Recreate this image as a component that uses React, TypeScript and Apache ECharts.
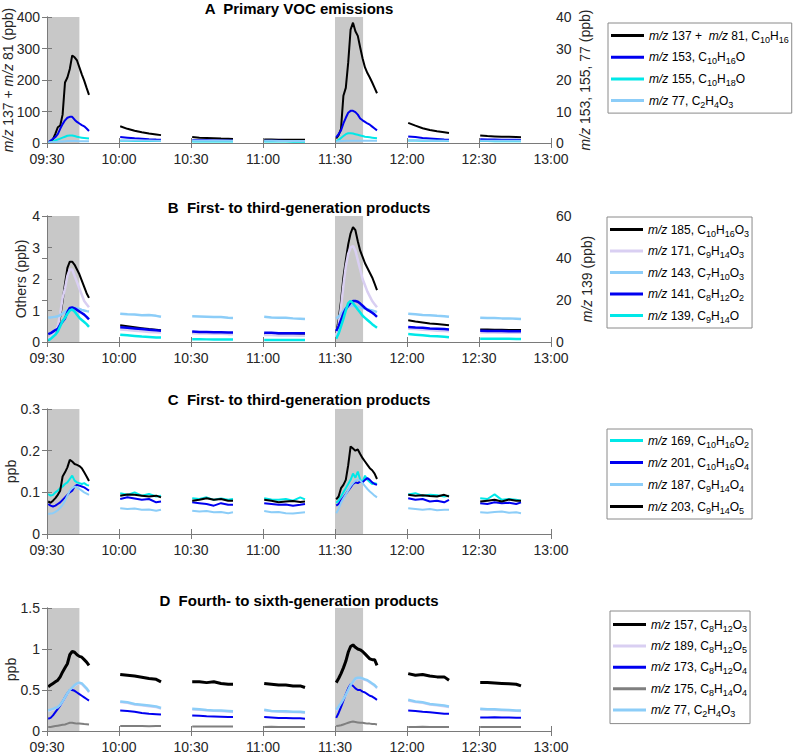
import React, { useEffect, useRef } from 'react';
import * as echarts from 'echarts';

const FONT = 'Liberation Sans, Arial, sans-serif';

// ---------- time axis ----------
const xTickLabels = ['09:30', '10:00', '10:30', '11:00', '11:30', '12:00', '12:30', '13:00'];
// minutes after 09:30
const segmentStarts = [0, 30, 60, 90, 120, 150, 180];
const pulseOffsets = [0.5, 1.5, 2.5, 3.5, 4.5, 5.5, 6.5, 7.5, 8.5, 9.5, 10.5, 11.5, 12.5, 13.5, 14.5, 15.5, 16.5, 17.5];
const flatOffsets = [0.5, 3.5, 6.5, 9.5, 12.5, 15.5, 17.5];
const shadePeriods = [[0, 13.5], [120, 131.7]];

// ---------- Panel A : primary VOC emissions ----------
const a137 = [
  [0, 4, 12, 30, 50, 55, 90, 192, 208, 235, 278, 272, 262, 240, 218, 198, 175, 153],
  [53, 45, 39, 34, 30, 27, 25],
  [19, 17, 16, 15, 14, 13.5, 13],
  [11, 10.8, 10.6, 10.5, 10.4, 10.3, 10.2],
  [15, 25, 45, 150, 175, 255, 360, 382, 355, 340, 303, 268, 240, 222, 208, 192, 175, 158],
  [64, 55, 47, 41, 37, 34, 32],
  [24, 22, 21, 20, 19.5, 19, 18],
];
const a153 = [
  [0.2, 0.8, 1.3, 1.9, 2.8, 4.5, 6.0, 7.2, 8.0, 8.3, 8.3, 7.4, 6.7, 6.2, 5.7, 5.3, 4.6, 3.8],
  [1.9, 1.7, 1.5, 1.35, 1.2, 1.1, 1.05],
  [0.9, 0.87, 0.85, 0.82, 0.8, 0.78, 0.77],
  [0.7, 0.69, 0.68, 0.67, 0.66, 0.65, 0.65],
  [1.8, 2.8, 4.0, 6.2, 8.0, 9.6, 10.2, 10.2, 9.8, 9.0, 7.8, 7.2, 6.7, 6.2, 5.8, 5.2, 4.6, 4.0],
  [2.1, 1.9, 1.6, 1.45, 1.3, 1.15, 1.06],
  [1.2, 1.15, 1.1, 1.05, 1.0, 1.0, 0.98],
];
const a155 = [
  [0, 0.2, 0.5, 0.8, 1.1, 1.4, 1.7, 2.0, 2.3, 2.4, 2.4, 2.2, 2.0, 1.8, 1.7, 1.6, 1.5, 1.4],
  [0.7, 0.68, 0.66, 0.64, 0.62, 0.6, 0.6],
  [0.5, 0.5, 0.49, 0.48, 0.48, 0.47, 0.47],
  [0.45, 0.45, 0.44, 0.44, 0.43, 0.43, 0.43],
  [0.5, 1.0, 1.6, 2.2, 2.8, 3.1, 3.1, 3.0, 2.8, 2.6, 2.4, 2.2, 2.0, 1.9, 1.8, 1.7, 1.6, 1.5],
  [0.8, 0.77, 0.74, 0.72, 0.7, 0.68, 0.67],
  [0.6, 0.6, 0.58, 0.58, 0.57, 0.56, 0.56],
];
const a77 = [
  [0.2, 0.25, 0.3, 0.35, 0.4, 0.45, 0.5, 0.55, 0.6, 0.6, 0.62, 0.6, 0.6, 0.58, 0.56, 0.55, 0.54, 0.52],
  [0.8, 0.79, 0.78, 0.77, 0.76, 0.75, 0.75],
  [0.72, 0.71, 0.71, 0.7, 0.7, 0.69, 0.69],
  [0.68, 0.68, 0.67, 0.67, 0.66, 0.66, 0.66],
  [0.5, 0.55, 0.6, 0.65, 0.7, 0.72, 0.74, 0.75, 0.75, 0.74, 0.73, 0.72, 0.71, 0.7, 0.7, 0.69, 0.68, 0.68],
  [0.78, 0.77, 0.76, 0.75, 0.75, 0.74, 0.74],
  [0.72, 0.72, 0.71, 0.71, 0.7, 0.7, 0.7],
];

// ---------- Panel B ----------
const b185 = [
  [0.05, 0.12, 0.2, 0.3, 0.42, 0.8, 1.3, 1.85, 2.35, 2.55, 2.55, 2.45, 2.3, 2.15, 1.95, 1.75, 1.55, 1.4],
  [0.53, 0.5, 0.47, 0.44, 0.41, 0.39, 0.37],
  [0.3, 0.3, 0.29, 0.29, 0.28, 0.28, 0.28],
  [0.26, 0.25, 0.25, 0.24, 0.24, 0.24, 0.24],
  [0.28, 0.7, 1.3, 2.05, 2.6, 3.1, 3.45, 3.65, 3.55, 3.2, 2.9, 2.7, 2.5, 2.35, 2.2, 2.05, 1.85, 1.65],
  [0.69, 0.65, 0.62, 0.59, 0.57, 0.55, 0.53],
  [0.4, 0.4, 0.39, 0.39, 0.38, 0.38, 0.38],
];
const b171 = [
  [0.1, 0.15, 0.25, 0.35, 0.5, 0.9, 1.4, 1.7, 2.1, 2.3, 2.3, 2.1, 1.9, 1.7, 1.5, 1.3, 1.2, 1.1],
  [0.4, 0.38, 0.36, 0.34, 0.32, 0.31, 0.3],
  [0.28, 0.27, 0.27, 0.26, 0.26, 0.25, 0.25],
  [0.22, 0.22, 0.21, 0.21, 0.21, 0.2, 0.2],
  [0.2, 0.55, 1.1, 1.8, 2.4, 2.8, 3.0, 3.05, 2.9, 2.6, 2.3, 2.0, 1.8, 1.6, 1.45, 1.3, 1.2, 1.1],
  [0.42, 0.41, 0.39, 0.38, 0.36, 0.35, 0.34],
  [0.3, 0.3, 0.3, 0.29, 0.29, 0.29, 0.29],
];
const b143 = [
  [0.78, 0.78, 0.79, 0.8, 0.82, 0.85, 0.9, 0.95, 1.0, 1.05, 1.07, 1.08, 1.07, 1.05, 1.02, 1.0, 0.98, 0.97],
  [0.9, 0.88, 0.87, 0.85, 0.86, 0.83, 0.8],
  [0.82, 0.81, 0.8, 0.79, 0.79, 0.77, 0.76],
  [0.8, 0.78, 0.77, 0.77, 0.75, 0.74, 0.73],
  [0.75, 0.8, 0.9, 1.0, 1.08, 1.12, 1.15, 1.15, 1.13, 1.12, 1.1, 1.08, 1.06, 1.04, 1.02, 1.0, 0.98, 0.95],
  [0.9, 0.88, 0.86, 0.85, 0.83, 0.82, 0.8],
  [0.77, 0.76, 0.76, 0.75, 0.75, 0.74, 0.73],
];
const b141 = [
  [0.25, 0.28, 0.33, 0.38, 0.42, 0.55, 0.65, 0.75, 0.95, 1.08, 1.1, 1.07, 1.02, 0.97, 0.92, 0.87, 0.8, 0.72],
  [0.47, 0.45, 0.43, 0.41, 0.39, 0.37, 0.36],
  [0.33, 0.32, 0.32, 0.31, 0.31, 0.3, 0.3],
  [0.29, 0.29, 0.28, 0.28, 0.28, 0.28, 0.28],
  [0.35, 0.5, 0.7, 0.9, 1.05, 1.15, 1.25, 1.3, 1.3, 1.28, 1.22, 1.15, 1.08, 1.02, 0.98, 0.93, 0.87, 0.8],
  [0.48, 0.46, 0.45, 0.43, 0.42, 0.41, 0.4],
  [0.36, 0.35, 0.35, 0.35, 0.34, 0.34, 0.34],
];
const b139 = [
  [0.8, 1.5, 2.5, 3.5, 5, 7.5, 10, 11.5, 13.5, 15, 15.5, 14.5, 13, 11.5, 10.5, 9.5, 8.5, 7.2],
  [3.5, 3.2, 2.9, 2.6, 2.4, 2.2, 2.1],
  [1.3, 1.3, 1.25, 1.2, 1.2, 1.15, 1.15],
  [1.0, 1.0, 0.98, 0.95, 0.95, 0.93, 0.92],
  [1.5, 4, 7.5, 11, 15, 18.5, 19.5, 18.5, 17, 15.5, 14, 12.5, 11.5, 10.5, 9.5, 8.5, 7.6, 6.8],
  [3.8, 3.5, 3.2, 2.9, 2.7, 2.5, 2.3],
  [1.6, 1.6, 1.55, 1.5, 1.5, 1.45, 1.45],
];

// ---------- Panel C ----------
const c169 = [
  [0.096, 0.092, 0.094, 0.1, 0.104, 0.11, 0.114, 0.12, 0.124, 0.132, 0.14, 0.128, 0.124, 0.122, 0.12, 0.122, 0.118, 0.116],
  [0.098, 0.094, 0.1, 0.092, 0.096, 0.09, 0.092],
  [0.086, 0.084, 0.088, 0.082, 0.085, 0.082, 0.084],
  [0.086, 0.083, 0.082, 0.084, 0.08, 0.088, 0.083],
  [0.075, 0.08, 0.09, 0.1, 0.11, 0.12, 0.13, 0.145, 0.135, 0.15, 0.13, 0.125, 0.14, 0.13, 0.125, 0.12, 0.122, 0.12],
  [0.095, 0.098, 0.092, 0.094, 0.093, 0.09, 0.092],
  [0.086, 0.084, 0.095, 0.082, 0.084, 0.082, 0.08],
];
const c201 = [
  [0.072, 0.068, 0.066, 0.068, 0.072, 0.076, 0.082, 0.088, 0.094, 0.1, 0.104, 0.114, 0.118, 0.116, 0.114, 0.112, 0.108, 0.104],
  [0.084, 0.088, 0.085, 0.082, 0.084, 0.076, 0.078],
  [0.076, 0.074, 0.072, 0.068, 0.074, 0.07, 0.07],
  [0.074, 0.072, 0.07, 0.071, 0.068, 0.07, 0.072],
  [0.068, 0.072, 0.08, 0.088, 0.096, 0.104, 0.112, 0.12, 0.124, 0.122, 0.126, 0.124, 0.13, 0.134, 0.13, 0.124, 0.12, 0.118],
  [0.086, 0.082, 0.084, 0.078, 0.08, 0.076, 0.082],
  [0.074, 0.072, 0.076, 0.074, 0.075, 0.072, 0.076],
];
const c187 = [
  [0.048, 0.049, 0.05, 0.053, 0.057, 0.063, 0.07, 0.08, 0.092, 0.104, 0.11, 0.114, 0.112, 0.108, 0.104, 0.1, 0.097, 0.094],
  [0.062, 0.06, 0.061, 0.058, 0.059, 0.056, 0.058],
  [0.056, 0.054, 0.055, 0.052, 0.053, 0.05, 0.052],
  [0.055, 0.052, 0.053, 0.05, 0.049, 0.051, 0.052],
  [0.05, 0.06, 0.075, 0.085, 0.095, 0.105, 0.115, 0.122, 0.128, 0.13, 0.128, 0.122, 0.115, 0.108, 0.102, 0.097, 0.092, 0.088],
  [0.062, 0.06, 0.058, 0.06, 0.057, 0.058, 0.058],
  [0.052, 0.051, 0.053, 0.054, 0.051, 0.052, 0.05],
];
const c203 = [
  [0.078, 0.075, 0.08, 0.086, 0.094, 0.104, 0.138, 0.148, 0.16, 0.178, 0.174, 0.168, 0.166, 0.163, 0.158, 0.148, 0.138, 0.127],
  [0.092, 0.095, 0.094, 0.092, 0.09, 0.092, 0.088],
  [0.08, 0.082, 0.086, 0.082, 0.084, 0.08, 0.08],
  [0.082, 0.08, 0.076, 0.078, 0.079, 0.077, 0.078],
  [0.083, 0.09, 0.11, 0.118, 0.13, 0.165, 0.21, 0.205, 0.2, 0.203, 0.192, 0.182, 0.174, 0.166, 0.158, 0.153, 0.145, 0.132],
  [0.094, 0.092, 0.093, 0.091, 0.09, 0.094, 0.09],
  [0.078, 0.08, 0.082, 0.078, 0.083, 0.08, 0.08],
];

// ---------- Panel D ----------
const d157 = [
  [0.54, 0.56, 0.58, 0.6, 0.62, 0.66, 0.72, 0.77, 0.82, 0.93, 0.97, 0.96, 0.93, 0.91, 0.9, 0.87, 0.84, 0.8],
  [0.69, 0.68, 0.67, 0.655, 0.64, 0.63, 0.6],
  [0.6, 0.6, 0.59, 0.6, 0.58, 0.57, 0.57],
  [0.58, 0.57, 0.56, 0.56, 0.55, 0.55, 0.53],
  [0.59, 0.64, 0.7, 0.77, 0.85, 0.96, 1.03, 1.05, 1.02, 1.0, 0.99, 0.97, 0.94, 0.91, 0.88, 0.87, 0.87, 0.8],
  [0.7, 0.68, 0.69, 0.67, 0.66, 0.66, 0.62],
  [0.59, 0.59, 0.585, 0.58, 0.575, 0.57, 0.55],
];
const d189 = [
  [0.24, 0.25, 0.26, 0.27, 0.28, 0.31, 0.35, 0.4, 0.45, 0.49, 0.52, 0.55, 0.57, 0.58, 0.57, 0.54, 0.51, 0.47],
  [0.35, 0.34, 0.32, 0.31, 0.3, 0.29, 0.27],
  [0.26, 0.255, 0.25, 0.245, 0.24, 0.235, 0.23],
  [0.25, 0.24, 0.235, 0.23, 0.23, 0.225, 0.22],
  [0.25, 0.29, 0.33, 0.38, 0.43, 0.49, 0.55, 0.59, 0.63, 0.64, 0.64, 0.63, 0.62, 0.61, 0.59, 0.57, 0.55, 0.52],
  [0.37, 0.35, 0.34, 0.32, 0.31, 0.3, 0.29],
  [0.26, 0.26, 0.255, 0.25, 0.25, 0.245, 0.24],
];
const d173 = [
  [0.15, 0.16, 0.19, 0.23, 0.27, 0.31, 0.36, 0.41, 0.46, 0.5, 0.5, 0.49, 0.47, 0.45, 0.43, 0.41, 0.39, 0.37],
  [0.25, 0.245, 0.235, 0.22, 0.21, 0.205, 0.2],
  [0.19, 0.185, 0.18, 0.178, 0.175, 0.17, 0.17],
  [0.17, 0.165, 0.16, 0.16, 0.155, 0.155, 0.15],
  [0.16, 0.22, 0.29, 0.37, 0.45, 0.52, 0.57, 0.55, 0.52, 0.5, 0.5, 0.48, 0.47, 0.45, 0.43, 0.42, 0.4, 0.38],
  [0.25, 0.245, 0.235, 0.23, 0.22, 0.21, 0.21],
  [0.165, 0.165, 0.168, 0.165, 0.165, 0.162, 0.162],
];
const d175 = [
  [0.05, 0.05, 0.055, 0.06, 0.065, 0.07, 0.075, 0.08, 0.09, 0.1, 0.1, 0.095, 0.09, 0.09, 0.088, 0.085, 0.083, 0.08],
  [0.06, 0.062, 0.06, 0.06, 0.058, 0.06, 0.06],
  [0.055, 0.056, 0.055, 0.054, 0.055, 0.054, 0.054],
  [0.05, 0.051, 0.05, 0.05, 0.049, 0.05, 0.05],
  [0.06, 0.065, 0.07, 0.08, 0.09, 0.1, 0.11, 0.115, 0.11, 0.105, 0.1, 0.1, 0.095, 0.09, 0.09, 0.085, 0.085, 0.08],
  [0.05, 0.05, 0.051, 0.05, 0.05, 0.049, 0.05],
  [0.05, 0.05, 0.05, 0.049, 0.05, 0.049, 0.049],
];
const d77 = [
  [0.25, 0.26, 0.27, 0.28, 0.29, 0.32, 0.36, 0.41, 0.46, 0.5, 0.53, 0.56, 0.58, 0.59, 0.58, 0.55, 0.52, 0.48],
  [0.36, 0.35, 0.33, 0.32, 0.31, 0.3, 0.28],
  [0.27, 0.265, 0.255, 0.25, 0.25, 0.245, 0.24],
  [0.26, 0.245, 0.24, 0.24, 0.235, 0.235, 0.23],
  [0.26, 0.3, 0.34, 0.39, 0.44, 0.5, 0.56, 0.6, 0.64, 0.65, 0.65, 0.64, 0.63, 0.62, 0.6, 0.58, 0.56, 0.53],
  [0.38, 0.36, 0.35, 0.33, 0.32, 0.31, 0.3],
  [0.27, 0.265, 0.265, 0.26, 0.255, 0.25, 0.25],
];

// ---------- text ----------
const panelTitles = [
  'A  Primary VOC emissions',
  'B  First- to third-generation products',
  'C  First- to third-generation products',
  'D  Fourth- to sixth-generation products',
];
const legendLabels: Record<string, string> = {
  A1: '{i|m/z} 137 +  {i|m/z} 81, C{s|10}H{s|16}',
  A2: '{i|m/z} 153, C{s|10}H{s|16}O',
  A3: '{i|m/z} 155, C{s|10}H{s|18}O',
  A4: '{i|m/z} 77, C{s|2}H{s|4}O{s|3}',
  B1: '{i|m/z} 185, C{s|10}H{s|16}O{s|3}',
  B2: '{i|m/z} 171, C{s|9}H{s|14}O{s|3}',
  B3: '{i|m/z} 143, C{s|7}H{s|10}O{s|3}',
  B4: '{i|m/z} 141, C{s|8}H{s|12}O{s|2}',
  B5: '{i|m/z} 139, C{s|9}H{s|14}O',
  C1: '{i|m/z} 169, C{s|10}H{s|16}O{s|2}',
  C2: '{i|m/z} 201, C{s|10}H{s|16}O{s|4}',
  C3: '{i|m/z} 187, C{s|9}H{s|14}O{s|4}',
  C4: '{i|m/z} 203, C{s|9}H{s|14}O{s|5}',
  D1: '{i|m/z} 157, C{s|8}H{s|12}O{s|3}',
  D2: '{i|m/z} 189, C{s|8}H{s|12}O{s|5}',
  D3: '{i|m/z} 173, C{s|8}H{s|12}O{s|4}',
  D4: '{i|m/z} 175, C{s|8}H{s|14}O{s|4}',
  D5: '{i|m/z} 77, C{s|2}H{s|4}O{s|3}',
};
const leftAxisNames = ['{i|m/z} 137 + {i|m/z} 81 (ppb)', 'Others (ppb)', 'ppb', 'ppb'];
const rightAxisNames = ['{i|m/z} 153, 155, 77 (ppb)', '{i|m/z} 139 (ppb)', '', ''];

// ---------- styling / layout ----------
const BLACK = '#000000';
const BLUE = '#0000f0';
const CYAN = '#00e8e8';
const LIGHTBLUE = '#8ccdf8';
const LAVENDER = '#d9cff2';
const GRAY = '#7f7f7f';

const panels = [
  { top: 17, height: 126, left: [0, 400, 100], right: [0, 40, 10], nameGapL: 32, nameGapR: 27, titleTop: 1,
    legend: { left: 608, top: 23, padding: [4, 3, 4, 3], gap: 4.7 } },
  { top: 216, height: 126, left: [0, 4, 1], right: [0, 60, 20], nameGapL: 19, nameGapR: 29, titleTop: 200,
    legend: { left: 607, top: 217, padding: [4, 3, 4, 3], gap: 4.5 } },
  { top: 409, height: 125, left: [0, 0.3, 0.1], right: null, nameGapL: 29, nameGapR: 0, titleTop: 392,
    legend: { left: 607, top: 429, padding: [3, 3, 4, 3], gap: 5 } },
  { top: 608, height: 123, left: [0, 1.5, 0.5], right: null, nameGapL: 29, nameGapR: 0, titleTop: 593,
    legend: { left: 610, top: 611, padding: [5, 3, 5, 3], gap: 4.4 } },
];

const seriesSpecs = [
  { id: 'A1', data: a137, panel: 0, right: false, color: BLACK, width: 2 },
  { id: 'A2', data: a153, panel: 0, right: true, color: BLUE, width: 2 },
  { id: 'A3', data: a155, panel: 0, right: true, color: CYAN, width: 2 },
  { id: 'A4', data: a77, panel: 0, right: true, color: LIGHTBLUE, width: 2 },
  { id: 'B1', data: b185, panel: 1, right: false, color: BLACK, width: 2 },
  { id: 'B2', data: b171, panel: 1, right: false, color: LAVENDER, width: 2.5 },
  { id: 'B3', data: b143, panel: 1, right: false, color: LIGHTBLUE, width: 2.5 },
  { id: 'B4', data: b141, panel: 1, right: false, color: BLUE, width: 2.5 },
  { id: 'B5', data: b139, panel: 1, right: true, color: CYAN, width: 2.5 },
  { id: 'C1', data: c169, panel: 2, right: false, color: CYAN, width: 2 },
  { id: 'C2', data: c201, panel: 2, right: false, color: BLUE, width: 2 },
  { id: 'C3', data: c187, panel: 2, right: false, color: LIGHTBLUE, width: 2 },
  { id: 'C4', data: c203, panel: 2, right: false, color: BLACK, width: 2 },
  { id: 'D1', data: d157, panel: 3, right: false, color: BLACK, width: 3 },
  { id: 'D2', data: d189, panel: 3, right: false, color: LAVENDER, width: 2 },
  { id: 'D3', data: d173, panel: 3, right: false, color: BLUE, width: 2 },
  { id: 'D4', data: d175, panel: 3, right: false, color: GRAY, width: 2 },
  { id: 'D5', data: d77, panel: 3, right: false, color: LIGHTBLUE, width: 2.5 },
];

function toPoints(segs: number[][]) {
  const out: any[] = [];
  segs.forEach((vals, i) => {
    const offs = vals.length === pulseOffsets.length ? pulseOffsets : flatOffsets;
    vals.forEach((v, j) => out.push([segmentStarts[i] + offs[j], v]));
    if (i < segs.length - 1) out.push(['-', '-']);
  });
  return out;
}

const AXIS_COLOR = '#7a7a7a';
const LABEL_COLOR = '#262626';

function buildOption() {
  const grid: any[] = [];
  const xAxis: any[] = [];
  const yAxis: any[] = [];
  const title: any[] = [];
  const legend: any[] = [];
  const nameStyle = {
    fontSize: 14, color: LABEL_COLOR, fontFamily: FONT,
    rich: { i: { fontStyle: 'italic', fontSize: 14, color: LABEL_COLOR, fontFamily: FONT } },
  };
  panels.forEach((p, i) => {
    grid.push({
      left: 47, width: 504, top: p.top, height: p.height,
      containLabel: false, outerBoundsMode: 'none',
    });
    const baseX = {
      type: 'value', gridIndex: i, min: 0, max: 210, interval: 30, z: 5,
      splitLine: { show: false },
      axisLine: { show: true, lineStyle: { color: AXIS_COLOR, width: 1 } },
      axisTick: { show: true, inside: true, length: 5, lineStyle: { color: AXIS_COLOR } },
    };
    xAxis.push({
      ...baseX, position: 'bottom',
      axisLabel: {
        show: true, margin: 9, fontSize: 14, lineHeight: 13, color: LABEL_COLOR, fontFamily: FONT,
        formatter: (v: number) => xTickLabels[Math.round(v / 30)] ?? '',
      },
    });
    xAxis.push({ ...baseX, position: 'top', axisLabel: { show: false } });
    const [lmin, lmax, lint] = p.left;
    yAxis.push({
      type: 'value', gridIndex: i, position: 'left', min: lmin, max: lmax, interval: lint, z: 5,
      splitLine: { show: false },
      axisLine: { show: true, lineStyle: { color: AXIS_COLOR, width: 1 } },
      axisTick: { show: true, inside: true, length: 5, lineStyle: { color: AXIS_COLOR } },
      axisLabel: { margin: 7, fontSize: 14, lineHeight: 12, color: LABEL_COLOR, fontFamily: FONT },
      name: leftAxisNames[i], nameLocation: 'middle', nameGap: p.nameGapL, nameRotate: 90,
      nameMoveOverlap: false,
      nameTextStyle: nameStyle,
    });
    const r = p.right || p.left;
    yAxis.push({
      type: 'value', gridIndex: i, position: 'right', min: r[0], max: r[1], interval: r[2], z: 5,
      splitLine: { show: false },
      axisLine: { show: true, lineStyle: { color: AXIS_COLOR, width: 1 } },
      axisTick: { show: true, inside: true, length: 5, lineStyle: { color: AXIS_COLOR } },
      axisLabel: { show: !!p.right, margin: 5, fontSize: 14, lineHeight: 12, color: LABEL_COLOR, fontFamily: FONT },
      name: rightAxisNames[i], nameLocation: 'middle', nameGap: p.nameGapR, nameRotate: 90,
      nameMoveOverlap: false,
      nameTextStyle: nameStyle,
    });
    title.push({
      text: panelTitles[i], left: 299, top: p.titleTop, textAlign: 'center', padding: 0,
      textStyle: { fontSize: 15, fontWeight: 'bold', color: '#000', fontFamily: FONT },
    });
    legend.push({
      data: seriesSpecs.filter((s) => s.panel === i).map((s) => s.id),
      orient: 'vertical', left: p.legend.left, top: p.legend.top,
      padding: p.legend.padding, itemGap: p.legend.gap,
      itemWidth: 33, itemHeight: 3, icon: 'rect',
      borderColor: '#8a8a8a', borderWidth: 1, backgroundColor: '#fff',
      selectedMode: false,
      formatter: (n: string) => legendLabels[n],
      textStyle: {
        fontSize: 12, color: '#000', fontFamily: FONT, lineHeight: 16,
        rich: {
          i: { fontStyle: 'italic', fontSize: 12, color: '#000', fontFamily: FONT, lineHeight: 16 },
          s: { fontSize: 9, color: '#000', fontFamily: FONT, lineHeight: 8, padding: [8, 0, 0, 0] },
        },
      },
    });
  });

  const firstOfPanel = new Set<number>();
  const series = seriesSpecs.map((s) => {
    const isFirst = !firstOfPanel.has(s.panel);
    firstOfPanel.add(s.panel);
    const obj: any = {
      name: s.id, type: 'line',
      xAxisIndex: s.panel * 2, yAxisIndex: s.panel * 2 + (s.right ? 1 : 0),
      data: toPoints(s.data), showSymbol: false, symbol: 'none', connectNulls: false,
      color: s.color, itemStyle: { color: s.color },
      lineStyle: { color: s.color, width: s.width }, silent: true,
    };
    if (isFirst) {
      obj.markArea = {
        silent: true, itemStyle: { color: '#c8c8c8' },
        data: shadePeriods.map(([a, b]) => [{ xAxis: a }, { xAxis: b }]),
      };
    }
    return obj;
  });

  return {
    animation: false, backgroundColor: '#ffffff',
    textStyle: { fontFamily: FONT },
    grid, xAxis, yAxis, title, legend, series,
  };
}

export default function App() {
  const ref = useRef<HTMLDivElement>(null);
  useEffect(() => {
    if (!ref.current) return;
    const chart = echarts.init(ref.current, null, { renderer: 'svg' });
    chart.setOption(buildOption() as any);
    return () => chart.dispose();
  }, []);
  return (
    <div
      ref={ref}
      style={{ position: 'fixed', left: 0, top: 0, width: 800, height: 756, background: '#fff' }}
    />
  );
}
